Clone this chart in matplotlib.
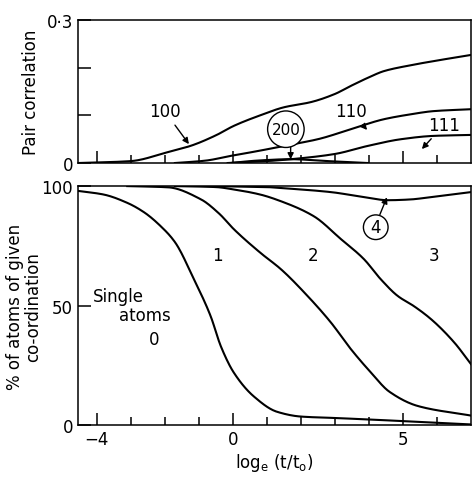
import numpy as np
import matplotlib
matplotlib.use("Agg")
import matplotlib.pyplot as plt

plt.rcParams['font.family'] = ['DejaVu Sans']

# pair correlation curves (top panel)
x100 = [-4.55, -3.0, -1.9, -1.24, -0.5, 0.03, 0.8, 1.5, 2.3, 3.0, 3.47, 4.0, 4.44, 5.2, 5.9, 7.0]
y100 = [0.0, 0.004, 0.023, 0.036, 0.058, 0.078, 0.1, 0.117, 0.128, 0.145, 0.162, 0.18, 0.193, 0.205, 0.214, 0.227]
x110 = [-1.7, -0.8, -0.06, 0.8, 1.5, 2.5, 3.47, 4.44, 5.2, 5.9, 7.0]
y110 = [0.0, 0.005, 0.015, 0.026, 0.036, 0.05, 0.071, 0.092, 0.102, 0.109, 0.113]
x111 = [-0.15, 1.0, 2.0, 3.0, 3.97, 4.94, 5.9, 7.0]
y111 = [0.0, 0.004, 0.01, 0.019, 0.036, 0.05, 0.057, 0.059]
x200 = [-0.06, 0.7, 1.7, 2.8, 3.97]
y200 = [0.0, 0.005, 0.008, 0.004, 0.0]

# coordination curves (bottom panel)
x0 = [-4.55, -3.8, -3.1, -2.6, -2.1, -1.7, -1.14, -0.65, -0.35, 0.03, 0.62, 1.3, 2.0, 3.0, 3.97, 5.0, 5.9, 7.0]
y0 = [98, 96.5, 93, 89, 83, 76.6, 61, 45.6, 33, 22, 12, 5.6, 3.6, 3.0, 2.4, 1.7, 1.1, 0.3]
x1 = [-3.1, -1.9, -0.94, -0.4, 0.03, 0.82, 1.41, 2.2, 2.88, 3.47, 4.06, 4.6, 5.44, 7.0]
y1 = [100, 99.5, 94.5, 88.5, 82, 72, 65.3, 54, 43, 31.8, 22, 14, 8, 4]
x2 = [-1.7, -0.5, 0.03, 0.8, 1.41, 2.38, 3.18, 3.85, 4.35, 4.85, 5.32, 5.82, 6.5, 7.0]
y2 = [100, 99.6, 98.6, 96.5, 93.7, 87.4, 77.8, 69.5, 61, 54, 49.8, 44.4, 34.7, 25.5]
x3 = [-0.5, 1.0, 1.41, 2.88, 3.85, 4.56, 5.2, 5.82, 7.0]
y3 = [100, 99.6, 99.2, 97.5, 95.4, 94.1, 94.4, 95.4, 97.5]


def pchip(xs, ys, n=400):
    # monotone cubic through the read-off points
    x = np.asarray(xs, float)
    y = np.asarray(ys, float)
    h = np.diff(x)
    d = np.diff(y) / h
    m = np.zeros_like(y)
    for k in range(1, len(x) - 1):
        if d[k - 1] * d[k] > 0:
            w1 = 2 * h[k] + h[k - 1]
            w2 = h[k] + 2 * h[k - 1]
            m[k] = (w1 + w2) / (w1 / d[k - 1] + w2 / d[k])
    m[0] = d[0]
    m[-1] = d[-1]
    t = np.linspace(x[0], x[-1], n)
    i = np.clip(np.searchsorted(x, t) - 1, 0, len(x) - 2)
    s = (t - x[i]) / h[i]
    h00 = 2 * s ** 3 - 3 * s ** 2 + 1
    h10 = s ** 3 - 2 * s ** 2 + s
    h01 = -2 * s ** 3 + 3 * s ** 2
    h11 = s ** 3 - s ** 2
    yt = h00 * y[i] + h10 * h[i] * m[i] + h01 * y[i + 1] + h11 * h[i] * m[i + 1]
    return t, yt


fig = plt.figure(figsize=(4.72, 4.81), dpi=100)
ax1 = fig.add_axes([0.165, 0.659, 0.833, 0.297])
ax2 = fig.add_axes([0.165, 0.114, 0.833, 0.497])

lw = 1.5
for xs, ys in [(x100, y100), (x110, y110), (x111, y111), (x200, y200)]:
    sx, sy = pchip(xs, ys)
    ax1.plot(sx, sy, color='black', lw=lw)
for xs, ys in [(x0, y0), (x1, y1), (x2, y2), (x3, y3)]:
    sx, sy = pchip(xs, ys)
    ax2.plot(sx, sy, color='black', lw=lw)

for ax in (ax1, ax2):
    ax.set_xlim(-4.55, 7.0)
    ax.set_xticks([-4, 0, 5])
    ax.set_xticks(range(-4, 7), minor=True)
    ax.tick_params(direction='in', which='major', length=9, width=1.1, labelsize=12)
    ax.tick_params(direction='in', which='minor', length=6, width=1.1)
    for sp in ax.spines.values():
        sp.set_linewidth(1.1)

ax1.set_ylim(0, 0.3)
ax1.set_yticks([0, 0.1, 0.2, 0.3])
ax1.set_yticklabels(['0', '', '', '0·3'])
ax1.tick_params(axis='x', labelbottom=False)
ax1.set_ylabel('Pair correlation', fontsize=12)
ax1.yaxis.set_label_coords(-0.097, 0.5)

ax2.set_ylim(0, 100)
ax2.set_yticks([0, 50, 100])
ax2.set_yticklabels(['0', '50', '100'])
ax2.set_ylabel('% of atoms of given\nco-ordination', fontsize=12, linespacing=1.0)
ax2.yaxis.set_label_coords(-0.092, 0.5)
ax2.set_xlabel('log$_\\mathrm{e}$ (t/t$_\\mathrm{o}$)', fontsize=12, labelpad=2)

arr = dict(arrowstyle='-|>', color='black', lw=1.0, mutation_scale=9)
circ = dict(boxstyle='circle,pad=0.25', fc='white', ec='black', lw=1.0)
ax1.annotate('100', xy=(-1.24, 0.035), xytext=(-2.0, 0.109), fontsize=12,
             ha='center', va='center', arrowprops=arr)
ax1.annotate('110', xy=(4.0, 0.065), xytext=(3.47, 0.109), fontsize=12,
             ha='center', va='center', arrowprops=arr)
ax1.annotate('111', xy=(5.5, 0.025), xytext=(6.2, 0.080), fontsize=12,
             ha='center', va='center', arrowprops=arr)
ax1.annotate('', xy=(1.7, 0.002), xytext=(1.7, 0.04), arrowprops=arr)
ax1.text(1.56, 0.071, '200', fontsize=11, ha='center', va='center', bbox=circ)

ax2.annotate('', xy=(4.56, 96.4), xytext=(4.29, 87.0), arrowprops=arr)
ax2.text(4.2, 82.8, '4', fontsize=12, ha='center', va='center',
         bbox=dict(boxstyle='circle,pad=0.2', fc='white', ec='black', lw=1.0))

ax2.text(-0.45, 71, '1', fontsize=12, ha='center', va='center')
ax2.text(2.35, 71, '2', fontsize=12, ha='center', va='center')
ax2.text(5.9, 71, '3', fontsize=12, ha='center', va='center')
ax2.text(-3.35, 54, 'Single', fontsize=12, ha='center', va='center')
ax2.text(-2.59, 46, 'atoms', fontsize=12, ha='center', va='center')
ax2.text(-2.3, 36, '0', fontsize=12, ha='center', va='center')

fig.savefig('out.png', dpi=100, facecolor='white')
